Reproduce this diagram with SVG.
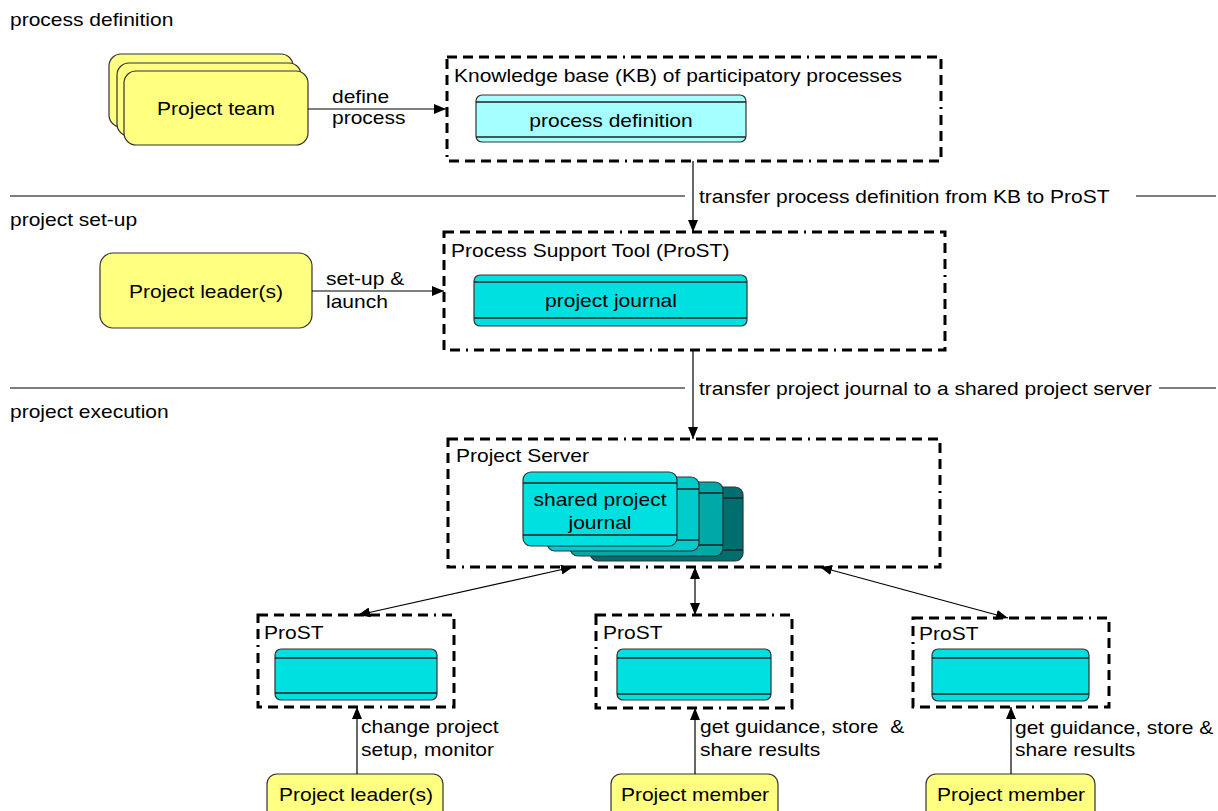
<svg xmlns="http://www.w3.org/2000/svg" width="1218" height="811" viewBox="0 0 1218 811">
<style>
text{font-family:"Liberation Sans",Arial,Helvetica,sans-serif;font-size:17.8px;fill:#000}
.m{text-anchor:middle}
.frame{fill:none;stroke:#000;stroke-width:3;stroke-dasharray:10 6 10 6 10 6 10 6 10 6 10 6 10 6 10 6 10 6 10 6 10 6 2 6}
.actor{fill:#FFFF80;stroke:#333;stroke-width:1.2}
.store{stroke:#333;stroke-width:1.2}
.sline{stroke:#222;stroke-width:1.3}
.sep{stroke:#000;stroke-width:1.2}
.con{fill:none;stroke:#000;stroke-width:1.2}
</style>
<defs>
<marker id="ah" viewBox="0 0 12 10" refX="12" refY="5" markerWidth="12" markerHeight="10" markerUnits="userSpaceOnUse" orient="auto-start-reverse">
<path d="M0,0 L12,5 L0,10 z" fill="#000"/>
</marker>
</defs>

<g id="section-labels">
<text transform="translate(10 26) scale(1.18 1)">process definition</text>
<text transform="translate(10 226) scale(1.18 1)">project set-up</text>
<text transform="translate(10 418) scale(1.18 1)">project execution</text>
<line class="sep" x1="10" y1="196" x2="685" y2="196"/>
<line class="sep" x1="1136" y1="196" x2="1216" y2="196"/>
<line class="sep" x1="10" y1="388" x2="685" y2="388"/>
<line class="sep" x1="1159" y1="388" x2="1216" y2="388"/>
</g>

<g id="project-team">
<rect class="actor" x="109" y="54" width="184" height="73" rx="12"/>
<rect class="actor" x="117" y="63" width="184" height="73" rx="12"/>
<rect class="actor" x="124" y="71" width="184" height="74" rx="12"/>
<text class="m" transform="translate(216 115) scale(1.18 1)">Project team</text>
</g>

<g id="kb">
<rect class="frame" x="447" y="57" width="494" height="104"/>
<text transform="translate(454 82) scale(1.18 1)">Knowledge base (KB) of participatory processes</text>
<rect class="store" x="476" y="95" width="270" height="47" rx="6" fill="#A6FFFF"/>
<line class="sline" x1="476" y1="102" x2="746" y2="102"/>
<line class="sline" x1="476" y1="137" x2="746" y2="137"/>
<text class="m" transform="translate(611 127) scale(1.18 1)">process definition</text>
</g>

<g id="setup-leader">
<rect class="actor" x="100" y="253" width="212" height="75" rx="13"/>
<text class="m" transform="translate(206 298) scale(1.18 1)">Project leader(s)</text>
</g>

<g id="prost">
<rect class="frame" x="444" y="232" width="501" height="118"/>
<text transform="translate(451 257) scale(1.18 1)">Process Support Tool (ProST)</text>
<rect class="store" x="474" y="275" width="273" height="51" rx="6" fill="#00E0E0"/>
<line class="sline" x1="474" y1="282" x2="747" y2="282"/>
<line class="sline" x1="474" y1="318" x2="747" y2="318"/>
<text class="m" transform="translate(611 307) scale(1.18 1)">project journal</text>
</g>

<g id="project-server">
<rect class="frame" x="448" y="439" width="492" height="128"/>
<text transform="translate(456 462) scale(1.18 1)">Project Server</text>
<rect class="store" x="590" y="487" width="153" height="74" rx="8" fill="#006E6E"/>
<line class="sline" x1="590" y1="498" x2="743" y2="498"/>
<line class="sline" x1="590" y1="550" x2="743" y2="550"/>
<rect class="store" x="570" y="482" width="153" height="74" rx="8" fill="#00A8A8"/>
<line class="sline" x1="570" y1="493" x2="723" y2="493"/>
<line class="sline" x1="570" y1="545" x2="723" y2="545"/>
<rect class="store" x="547" y="477" width="152" height="74" rx="8" fill="#00CCCC"/>
<line class="sline" x1="547" y1="489" x2="699" y2="489"/>
<line class="sline" x1="547" y1="540" x2="699" y2="540"/>
<rect class="store" x="523" y="472" width="154" height="74" rx="8" fill="#00E0E0"/>
<line class="sline" x1="523" y1="483" x2="677" y2="483"/>
<line class="sline" x1="523" y1="535" x2="677" y2="535"/>
<text class="m" transform="translate(600 506) scale(1.18 1)">shared project</text>
<text class="m" transform="translate(600 529) scale(1.18 1)">journal</text>
</g>

<g id="prost-leader">
<rect class="frame" x="258" y="615" width="196" height="92"/>
<text transform="translate(264 639) scale(1.18 1)">ProST</text>
<rect class="store" x="275" y="649" width="162" height="51" rx="6" fill="#00E0E0"/>
<line class="sline" x1="275" y1="658" x2="437" y2="658"/>
<line class="sline" x1="275" y1="693" x2="437" y2="693"/>
</g>

<g id="prost-member1">
<rect class="frame" x="596" y="615" width="196" height="93"/>
<text transform="translate(603 639) scale(1.18 1)">ProST</text>
<rect class="store" x="617" y="649" width="154" height="51" rx="6" fill="#00E0E0"/>
<line class="sline" x1="617" y1="658" x2="771" y2="658"/>
<line class="sline" x1="617" y1="694" x2="771" y2="694"/>
</g>

<g id="prost-member2">
<rect class="frame" x="913" y="618" width="196" height="89"/>
<text transform="translate(919 640) scale(1.18 1)">ProST</text>
<rect class="store" x="932" y="649" width="157" height="52" rx="6" fill="#00E0E0"/>
<line class="sline" x1="932" y1="658" x2="1089" y2="658"/>
<line class="sline" x1="932" y1="694" x2="1089" y2="694"/>
</g>

<g id="leader-bottom">
<rect class="actor" x="267" y="774" width="176" height="50" rx="10"/>
<text class="m" transform="translate(356 801) scale(1.18 1)">Project leader(s)</text>
</g>

<g id="member1-bottom">
<rect class="actor" x="611" y="774" width="167" height="50" rx="10"/>
<text class="m" transform="translate(695 801) scale(1.18 1)">Project member</text>
</g>

<g id="member2-bottom">
<rect class="actor" x="926" y="774" width="169" height="50" rx="10"/>
<text class="m" transform="translate(1011 801) scale(1.18 1)">Project member</text>
</g>

<g id="connectors">
<line class="con" x1="308" y1="109" x2="446" y2="109" marker-end="url(#ah)"/>
<text transform="translate(332 103) scale(1.18 1)">define</text>
<text transform="translate(332 124) scale(1.18 1)">process</text>

<line class="con" x1="312" y1="291" x2="444" y2="291" marker-end="url(#ah)"/>
<text transform="translate(326 285) scale(1.18 1)">set-up &amp;</text>
<text transform="translate(326 308) scale(1.18 1)">launch</text>

<line class="con" x1="693" y1="161" x2="693" y2="232" marker-end="url(#ah)"/>
<text transform="translate(699 203) scale(1.18 1)">transfer process definition from KB to ProST</text>

<line class="con" x1="693" y1="350" x2="693" y2="439" marker-end="url(#ah)"/>
<text transform="translate(699 395) scale(1.18 1)">transfer project journal to a shared project server</text>

<line class="con" x1="573" y1="567" x2="358" y2="615" marker-start="url(#ah)" marker-end="url(#ah)"/>
<line class="con" x1="695" y1="567" x2="695" y2="615" marker-start="url(#ah)" marker-end="url(#ah)"/>
<line class="con" x1="820" y1="567" x2="1008" y2="618" marker-start="url(#ah)" marker-end="url(#ah)"/>

<line class="con" x1="357" y1="774" x2="357" y2="707" marker-end="url(#ah)"/>
<text transform="translate(361 733) scale(1.18 1)">change project</text>
<text transform="translate(361 756) scale(1.18 1)">setup, monitor</text>

<line class="con" x1="695" y1="774" x2="695" y2="708" marker-end="url(#ah)"/>
<text transform="translate(700 733) scale(1.18 1)" xml:space="preserve">get guidance, store  &amp;</text>
<text transform="translate(700 756) scale(1.18 1)">share results</text>

<line class="con" x1="1011" y1="774" x2="1011" y2="707" marker-end="url(#ah)"/>
<text transform="translate(1015 734) scale(1.18 1)">get guidance, store &amp;</text>
<text transform="translate(1015 756) scale(1.18 1)">share results</text>
</g>
</svg>
